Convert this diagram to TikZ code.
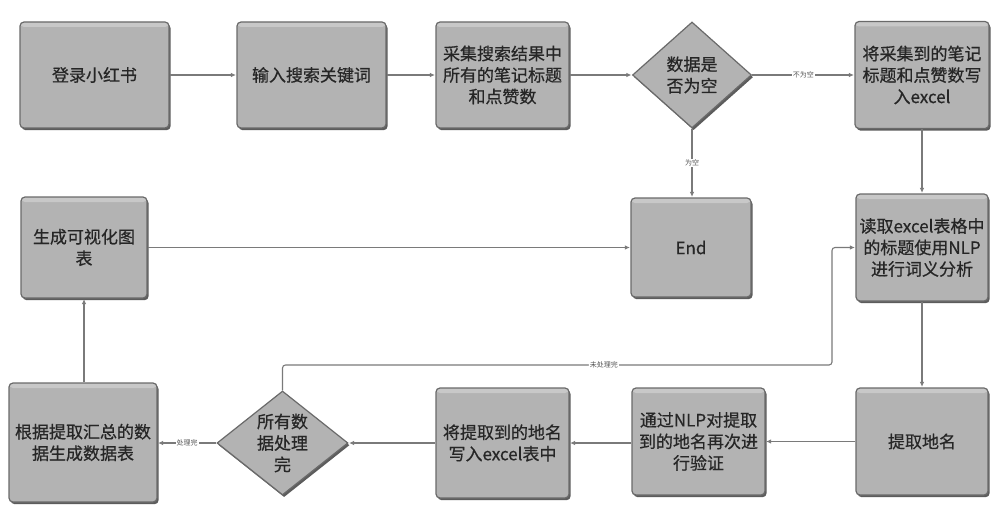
\documentclass[tikz,border=0pt]{standalone}
\usepackage{fontspec}
\setmainfont{Noto Sans CJK SC}
\newfontfamily\boxfont{Noto Sans CJK SC}[FakeBold=0.6]
\usetikzlibrary{shapes.geometric,shadows,arrows.meta}
\definecolor{boxfill}{HTML}{B3B3B3}
\definecolor{boxedge}{HTML}{6A6A6A}
\definecolor{linecol}{HTML}{7A7A7A}
\definecolor{txtcol}{HTML}{262626}
\definecolor{lblcol}{HTML}{555555}
\tikzset{
  stepbox/.style={draw=boxedge, line width=1.2pt, fill=boxfill, rounded corners=4pt,
    inner sep=0pt, align=center, text=txtcol,
    font=\boxfont\fontsize{17}{21.5}\selectfont,
    drop shadow={shadow xshift=1.6pt, shadow yshift=-2.2pt, fill=black!75, opacity=0.85},
    path picture={\fill[white,opacity=0.28] ([yshift=-5pt]path picture bounding box.north west) rectangle (path picture bounding box.north east);}},
  decbox/.style={diamond, draw=boxedge, line width=1.2pt, fill=boxfill, inner sep=0pt,
    drop shadow={shadow xshift=1.6pt, shadow yshift=-2.2pt, fill=black!75, opacity=0.85}},
  dectext/.style={align=center, text=txtcol, font=\boxfont\fontsize{17}{21.5}\selectfont, inner sep=0pt},
  conn/.style={draw=linecol, line width=1.1pt, -{Latex[length=5pt,width=4.5pt]}, shorten >=0.5pt},
  elabel/.style={fill=white, inner sep=1pt, text=lblcol, font=\fontsize{7}{8}\selectfont}
}
\begin{document}
\begin{tikzpicture}[x=1pt,y=-1pt]
\useasboundingbox (0,0) rectangle (1000,513);
\fill[white] (0,0) rectangle (1000,513);
% row 1
\node[stepbox, minimum width=149pt, minimum height=106pt] (login) at (94.5,75) {登录小红书};
\node[stepbox, minimum width=149pt, minimum height=106pt] (input) at (311.5,75) {输入搜索关键词};
\node[stepbox, minimum width=133pt, minimum height=106pt] (collect) at (502.5,75) {采集搜索结果中\\所有的笔记标题\\和点赞数};
\node[decbox, minimum width=119pt, minimum height=106pt] (d1) at (692,75) {};
\node[dectext] (d1t) at (d1.center) {数据是\\否为空};
\node[stepbox, minimum width=134pt, minimum height=107pt] (write) at (922,75) {将采集到的笔记\\标题和点赞数写\\入excel};
% row 2
\node[stepbox, minimum width=126pt, minimum height=101pt] (chart) at (84,247.5) {生成可视化图\\表};
\node[stepbox, minimum width=120pt, minimum height=99pt] (endn) at (691,247.5) {End};
\node[stepbox, minimum width=132pt, minimum height=107pt] (read) at (922,247.5) {读取excel表格中\\的标题使用NLP\\进行词义分析};
% row 3
\node[stepbox, minimum width=148pt, minimum height=119pt] (table) at (83,442.5) {根据提取汇总的数\\据生成数据表};
\node[decbox, minimum width=131pt, minimum height=104pt] (d2) at (282.5,443) {};
\node[dectext] (d2t) at (d2.center) {所有数\\据处理\\完};
\node[stepbox, minimum width=133pt, minimum height=110pt] (wplace) at (502.5,443) {将提取到的地名\\写入excel表中};
\node[stepbox, minimum width=133pt, minimum height=107pt] (verify) at (698.5,441.5) {通过NLP对提取\\到的地名再次进\\行验证};
\node[stepbox, minimum width=132pt, minimum height=107pt] (place) at (922,441.5) {提取地名};
% loop coordinates
\coordinate (lp1) at (282.5,365);
\coordinate (lp2) at (832,365);
\coordinate (lp3) at (832,247.5);
% connectors
\draw[conn] (login) -- (input);
\draw[conn] (input) -- (collect);
\draw[conn] (collect) -- (d1);
\draw[conn] (d1) -- node[elabel]{不为空} (write);
\draw[conn] (d1) -- node[elabel]{为空} (d1 |- endn.north);
\draw[conn] (write) -- (read);
\draw[conn] (read) -- (read |- place.north);
\draw[conn] (place.west |- verify) -- (verify);
\draw[conn] (verify.west |- wplace) -- (wplace);
\draw[conn] (wplace) -- (d2);
\draw[conn] (d2) -- node[elabel]{处理完} (table.east |- d2);
\draw[conn, rounded corners=3pt] (d2.north) -- (lp1) -- node[elabel, pos=0.585]{未处理完} (lp2) -- (lp3) -- (read.west);
\draw[conn] (table.north -| chart) -- (chart);
\draw[conn] (chart) -- (endn);
\end{tikzpicture}
\end{document}
